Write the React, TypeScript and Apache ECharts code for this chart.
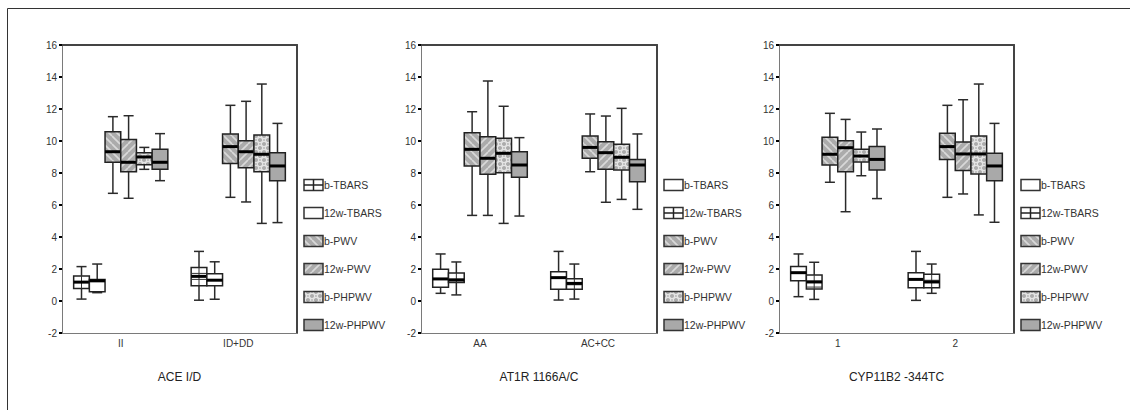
import React, { useEffect, useRef } from "react";
import * as echarts from "echarts";

// ---------- data ----------
const panelTitles = ["ACE I/D", "AT1R 1166A/C", "CYP11B2 -344TC"];
const aceCategories = ["II", "ID+DD"];
const at1rCategories = ["AA", "AC+CC"];
const cypCategories = ["1", "2"];
const seriesNames = ["b-TBARS", "12w-TBARS", "b-PWV", "12w-PWV", "b-PHPWV", "12w-PHPWV"];
const yMin = -2;
const yMax = 16;
const yInterval = 2;

// each row: [min, Q1, median, Q3, max] for category 0 and category 1
const ace_bTBARS = [[0.12, 0.78, 1.18, 1.57, 2.15], [0.05, 0.96, 1.54, 2.1, 3.1]];
const ace_w12TBARS = [[0.52, 0.58, 1.26, 1.35, 2.31], [0.11, 0.96, 1.3, 1.7, 2.45]];
const ace_bPWV = [[6.73, 8.67, 9.33, 10.58, 11.52], [6.48, 8.6, 9.65, 10.44, 12.23]];
const ace_w12PWV = [[6.42, 8.08, 8.67, 10.1, 11.58], [6.19, 8.33, 9.33, 10.02, 12.48]];
const ace_bPHPWV = [[8.23, 8.52, 9.0, 9.27, 9.6], [4.85, 8.08, 9.17, 10.37, 13.56]];
const ace_w12PHPWV = [[7.52, 8.23, 8.67, 9.48, 10.46], [4.9, 7.52, 8.44, 9.27, 11.1]];

const at1r_bTBARS = [[0.48, 0.86, 1.38, 1.98, 2.94], [0.06, 0.73, 1.46, 1.83, 3.1]];
const at1r_w12TBARS = [[0.38, 1.15, 1.31, 1.75, 2.44], [0.12, 0.73, 1.1, 1.39, 2.31]];
const at1r_bPWV = [[5.35, 8.44, 9.48, 10.52, 11.83], [8.08, 8.92, 9.6, 10.31, 11.69]];
const at1r_w12PWV = [[5.35, 7.92, 8.92, 10.27, 13.75], [6.17, 8.23, 9.27, 9.96, 11.56]];
const at1r_bPHPWV = [[4.85, 8.02, 9.23, 10.17, 12.17], [6.35, 8.19, 8.98, 9.79, 12.04]];
const at1r_w12PHPWV = [[5.31, 7.73, 8.5, 9.33, 10.21], [5.73, 7.46, 8.5, 8.85, 10.44]];

const cyp_bTBARS = [[0.27, 1.27, 1.77, 2.15, 2.94], [0.04, 0.83, 1.35, 1.77, 3.1]];
const cyp_w12TBARS = [[0.1, 0.75, 1.19, 1.62, 2.42], [0.48, 0.83, 1.19, 1.67, 2.31]];
const cyp_bPWV = [[7.42, 8.5, 9.17, 10.23, 11.73], [6.48, 8.85, 9.65, 10.48, 12.23]];
const cyp_w12PWV = [[5.58, 8.08, 9.58, 10.02, 11.35], [6.69, 8.15, 9.19, 9.94, 12.58]];
const cyp_bPHPWV = [[7.83, 8.69, 9.06, 9.48, 10.56], [5.38, 7.94, 9.19, 10.31, 13.56]];
const cyp_w12PHPWV = [[6.4, 8.19, 8.85, 9.65, 10.75], [4.92, 7.52, 8.44, 9.23, 11.1]];

const panels = [
  { title: panelTitles[0], categories: aceCategories, fills: ["grid", "white", "diagDown", "diagUp", "bubble", "solid"],
    series: [ace_bTBARS, ace_w12TBARS, ace_bPWV, ace_w12PWV, ace_bPHPWV, ace_w12PHPWV] },
  { title: panelTitles[1], categories: at1rCategories, fills: ["white", "grid", "diagDown", "diagUp", "bubble", "solid"],
    series: [at1r_bTBARS, at1r_w12TBARS, at1r_bPWV, at1r_w12PWV, at1r_bPHPWV, at1r_w12PHPWV] },
  { title: panelTitles[2], categories: cypCategories, fills: ["white", "grid", "diagDown", "diagUp", "bubble", "solid"],
    series: [cyp_bTBARS, cyp_w12TBARS, cyp_bPWV, cyp_w12PWV, cyp_bPHPWV, cyp_w12PHPWV] },
];

// ---------- layout ----------
const gridLefts = [62, 421, 779];
const gridWidths = [235, 236, 235];
const gridTop = 45;
const gridHeight = 288;
const FONT = "'Liberation Sans', Arial, sans-serif";
const GRAY = "#ababab";
const LIGHT = "#d9d9d9";

function tile(draw: (ctx: CanvasRenderingContext2D) => void, size = 8) {
  const c = document.createElement("canvas");
  c.width = size;
  c.height = size;
  const ctx = c.getContext("2d") as CanvasRenderingContext2D;
  draw(ctx);
  return { image: c, repeat: "repeat", imageWidth: size, imageHeight: size } as any;
}

function makePatterns() {
  const diagDown = tile((ctx) => {
    ctx.fillStyle = GRAY;
    ctx.fillRect(0, 0, 8, 8);
    ctx.strokeStyle = LIGHT;
    ctx.lineWidth = 1.7;
    for (const k of [-8, 0, 8]) {
      ctx.beginPath();
      ctx.moveTo(k, 0);
      ctx.lineTo(k + 8, 8);
      ctx.stroke();
    }
  });
  const diagUp = tile((ctx) => {
    ctx.fillStyle = GRAY;
    ctx.fillRect(0, 0, 8, 8);
    ctx.strokeStyle = LIGHT;
    ctx.lineWidth = 1.7;
    for (const k of [-8, 0, 8]) {
      ctx.beginPath();
      ctx.moveTo(k + 8, 0);
      ctx.lineTo(k, 8);
      ctx.stroke();
    }
  });
  const bubble = tile((ctx) => {
    ctx.fillStyle = GRAY;
    ctx.fillRect(0, 0, 8, 8);
    ctx.strokeStyle = "#e4e4e4";
    ctx.lineWidth = 1.3;
    for (const [x, y] of [[4, 4], [0, 0], [8, 0], [0, 8], [8, 8]]) {
      ctx.beginPath();
      ctx.arc(x, y, 2.7, 0, Math.PI * 2);
      ctx.stroke();
    }
  });
  return { diagDown, diagUp, bubble, solid: "#a9a9a9", white: "#ffffff", grid: "#ffffff" } as Record<string, any>;
}

function makeRenderItem(slot: number, kind: string, pats: Record<string, any>) {
  return (params: any, api: any) => {
    const cat = api.value(0);
    const v = [1, 2, 3, 4, 5].map((i) => api.value(i));
    const band = api.size([1, 0])[0];
    const bw = band * 0.1336;
    const cx = api.coord([cat, 0])[0] + (slot - 2.5) * bw;
    const ys = v.map((val) => api.coord([cat, val])[1]);
    const [yLo, yQ1, yMed, yQ3, yHi] = ys;
    const left = cx - bw / 2;
    const cap = bw * 0.32;
    const wStyle = { stroke: "#2a2a2a", lineWidth: 1.5 };
    const children: any[] = [
      { type: "line", shape: { x1: cx, y1: yHi, x2: cx, y2: yQ3 }, style: wStyle },
      { type: "line", shape: { x1: cx, y1: yQ1, x2: cx, y2: yLo }, style: wStyle },
      { type: "line", shape: { x1: cx - cap, y1: yHi, x2: cx + cap, y2: yHi }, style: wStyle },
      { type: "line", shape: { x1: cx - cap, y1: yLo, x2: cx + cap, y2: yLo }, style: wStyle },
      { type: "rect", shape: { x: left, y: yQ3, width: bw, height: yQ1 - yQ3 },
        style: { fill: pats[kind], stroke: "#222", lineWidth: 1.5 } },
    ];
    if (kind === "grid") {
      children.push({ type: "line", shape: { x1: cx, y1: yQ3, x2: cx, y2: yQ1 }, style: { stroke: "#333", lineWidth: 1 } });
      for (let y = yQ3 + 6; y < yQ1 - 1.5; y += 6) {
        children.push({ type: "line", shape: { x1: left, y1: y, x2: left + bw, y2: y }, style: { stroke: "#333", lineWidth: 1 } });
      }
    }
    children.push({ type: "line", shape: { x1: left, y1: yMed, x2: left + bw, y2: yMed }, style: { stroke: "#000", lineWidth: 3 } });
    return { type: "group", children };
  };
}

export default function App() {
  const ref = useRef<HTMLDivElement>(null);
  useEffect(() => {
    if (!ref.current) return;
    const chart = echarts.init(ref.current, null, { renderer: "svg" });
    const pats = makePatterns();

    const grid: any[] = [];
    const xAxis: any[] = [];
    const yAxis: any[] = [];
    const series: any[] = [];
    const graphic: any[] = [
      { type: "rect", silent: true, z: -10, shape: { x: 7.5, y: 8.5, width: 1300, height: 600 },
        style: { fill: "none", stroke: "#333", lineWidth: 1 } },
    ];

    panels.forEach((p, i) => {
      grid.push({ left: gridLefts[i], top: gridTop, width: gridWidths[i], height: gridHeight, show: false });
      xAxis.push({
        type: "category", gridIndex: i, data: p.categories, position: "bottom",
        axisLine: { onZero: false, lineStyle: { color: "#7a7a7a", width: 1 } },
        axisTick: { alignWithLabel: true, length: 3, lineStyle: { color: "#000", width: 2 } },
        axisLabel: { margin: 5, fontSize: 10, color: "#333", fontFamily: FONT },
        name: p.title, nameLocation: "middle", nameGap: 38,
        nameTextStyle: { fontSize: 12, color: "#222", fontFamily: FONT },
      });
      xAxis.push({
        type: "category", gridIndex: i, data: p.categories, position: "top",
        axisLine: { onZero: false, lineStyle: { color: "#444", width: 2 } },
        axisTick: { show: false }, axisLabel: { show: false },
      });
      yAxis.push({
        type: "value", gridIndex: i, min: yMin, max: yMax, interval: yInterval, position: "left",
        axisLine: { show: true, onZero: false, lineStyle: { color: "#7a7a7a", width: 1 } },
        axisTick: { show: true, length: 3, lineStyle: { color: "#000", width: 2 } },
        axisLabel: { margin: 5, fontSize: 10, color: "#333", fontFamily: FONT },
        splitLine: { show: false },
      });
      yAxis.push({
        type: "value", gridIndex: i, min: yMin, max: yMax, interval: yInterval, position: "right",
        axisLine: { show: true, onZero: false, lineStyle: { color: "#444", width: 2 } },
        axisTick: { show: false }, axisLabel: { show: false }, splitLine: { show: false },
      });
      p.series.forEach((rows, s) => {
        series.push({
          type: "custom",
          name: seriesNames[s],
          xAxisIndex: 2 * i,
          yAxisIndex: 2 * i,
          encode: { x: 0, y: [1, 2, 3, 4, 5] },
          data: rows.map((r, c) => [c, ...r]),
          renderItem: makeRenderItem(s, p.fills[s], pats),
          silent: true,
        });
      });
      // legend
      const lx = gridLefts[i] + gridWidths[i] + 7;
      seriesNames.forEach((name, s) => {
        const cy = 185 + s * 28;
        const kind = p.fills[s];
        graphic.push({ type: "rect", silent: true, shape: { x: lx, y: cy - 5.5, width: 19, height: 11 },
          style: { fill: pats[kind], stroke: "#333", lineWidth: 1.5 } });
        if (kind === "grid") {
          graphic.push({ type: "line", silent: true, shape: { x1: lx + 9.5, y1: cy - 5.5, x2: lx + 9.5, y2: cy + 5.5 }, style: { stroke: "#222", lineWidth: 1.5 } });
          graphic.push({ type: "line", silent: true, shape: { x1: lx, y1: cy, x2: lx + 19, y2: cy }, style: { stroke: "#222", lineWidth: 1.5 } });
        }
        graphic.push({ type: "text", silent: true, x: lx + 20, y: cy,
          style: { text: name, fill: "#333", font: `10.5px ${FONT}`, verticalAlign: "middle", align: "left" } });
      });
    });

    chart.setOption({
      animation: false,
      backgroundColor: "#ffffff",
      grid, xAxis, yAxis, series, graphic,
    });
    return () => chart.dispose();
  }, []);
  return <div ref={ref} style={{ position: "absolute", left: 0, top: 0, width: 1130, height: 410 }} />;
}
